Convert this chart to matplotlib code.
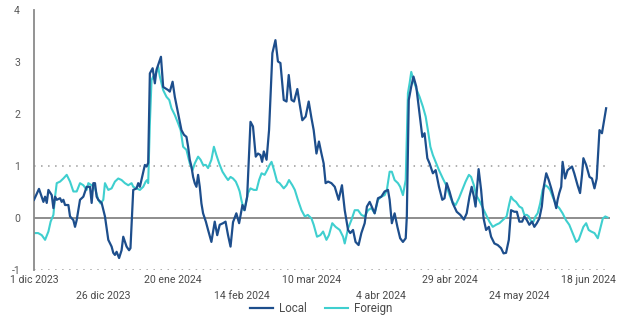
import matplotlib
matplotlib.use("Agg")
import matplotlib.pyplot as plt
import matplotlib.transforms as mtransforms
import pandas as pd

start_date = "2023-12-01"

local_days = [0, 1.8, 3.4, 4.0, 4.6, 5.2, 6.4, 7.0, 7.6, 8.2, 9.4, 10.0, 10.6, 11.2, 12.4, 13.0, 14.2, 14.8, 15.4, 16.6,
              17.8, 19.0, 20.2, 20.8, 21.4, 22.0, 22.6, 23.2, 24.4, 25.6, 26.8, 28.0, 28.6, 29.2, 29.8, 30.7, 31.6, 32.2, 33.4, 34.3,
              34.8, 35.8, 37.0, 37.6, 38.2, 39.2, 39.6, 40.0, 40.6, 41.2, 41.8, 42.8, 43.6, 44.2, 45.2, 45.8, 46.6, 48.4, 49.0, 50.0,
              50.8, 52.0, 53.2, 54.1, 55.0, 55.6, 56.2, 56.8, 57.4, 58.0, 58.6, 59.2, 59.8, 60.4, 61.0, 62.0, 62.8, 64.0, 65.2, 66.1,
              67.0, 68.2, 69.1, 70.0, 70.9, 71.8, 73.0, 74.0, 75.2, 76.0, 76.9, 78.1, 79.0, 80.0, 80.8, 81.7, 82.3, 82.9, 83.9, 84.8,
              86.0, 87.1, 88.0, 88.9, 90.1, 91.1, 91.9, 92.9, 93.8, 95.0, 95.9, 96.8, 98.0, 99.1, 100.1, 100.9, 101.9, 102.8, 103.7, 104.5,
              105.2, 106.1, 107.3, 108.5, 109.9, 111.1, 112.1, 113.3, 114.1, 115.1, 116.0, 117.1, 118.1, 119.3, 120.1, 121.1, 122.1, 122.9, 124.1, 125.3,
              126.5, 127.7, 128.3, 129.1, 130.1, 131.1, 132.1, 133.1, 134.1, 134.5, 135.2, 136.1, 136.9, 137.9, 138.8, 140.1, 140.9, 141.9, 142.7, 143.9,
              144.9, 146.1, 147.3, 148.1, 148.9, 149.9, 151.1, 152.5, 153.8, 155.1, 156.1, 157.1, 157.9, 158.7, 159.3, 160.4, 161.3, 162.2, 163.1, 164.1,
              164.9, 166.1, 167.3, 168.5, 169.4, 170.3, 171.3, 172.1, 173.3, 174.2, 175.1, 176.1, 176.9, 177.8, 178.7, 179.7, 180.5, 181.4, 182.3, 183.2,
              183.9, 184.8, 185.7, 186.6, 187.4, 188.4, 188.9, 189.5, 190.2, 190.7, 191.6, 192.5, 194.1, 194.9, 196.1, 197.0, 197.7, 198.2, 199.2, 200.4,
              201.3, 202.2, 203.0, 204.0, 204.9, 205.8, 206.4]
local_vals = [0.35, 0.56, 0.31, 0.41, 0.29, 0.54, 0.44, 0.19, 0.41, 0.35, 0.38, 0.31, 0.35, 0.25, 0.25, 0.03, -0.04, -0.17, -0.04, 0.35,
              0.41, 0.60, 0.60, 0.29, 0.67, 0.67, 0.41, 0.35, 0.29, 0.03, -0.42, -0.55, -0.67, -0.71, -0.65, -0.77, -0.62, -0.36, -0.55, -0.62,
              -0.58, 0.54, 0.57, 0.67, 0.60, 0.83, 0.92, 1.02, 0.99, 1.06, 2.78, 2.88, 2.59, 2.85, 3.01, 3.10, 2.52, 2.46, 2.43, 2.62,
              2.33, 2.01, 1.69, 1.60, 1.56, 1.37, 1.12, 0.99, 0.79, 0.67, 0.60, 0.83, 0.60, 0.28, 0.09, -0.07, -0.23, -0.46, -0.07, -0.33,
              -0.13, -0.10, -0.07, -0.33, -0.55, -0.08, 0.09, -0.10, 0.25, 0.15, 0.41, 1.85, 1.76, 1.18, 1.24, 1.21, 1.08, 1.28, 1.12, 1.69,
              3.17, 3.42, 3.01, 2.98, 2.27, 2.24, 2.75, 2.27, 2.24, 2.48, 2.17, 1.88, 1.95, 2.24, 1.92, 1.69, 1.24, 1.47, 1.24, 1.05,
              0.67, 0.70, 0.67, 0.60, 0.35, 0.63, 0.15, -0.23, -0.29, -0.23, -0.46, -0.52, -0.29, -0.10, 0.22, 0.31, 0.19, 0.09, 0.38, 0.41,
              0.51, 0.54, 0.35, -0.10, 0.09, -0.17, -0.39, -0.46, -0.39, 0.03, 2.27, 2.53, 2.72, 2.53, 2.14, 1.56, 1.63, 1.15, 1.05, 0.86,
              0.92, 0.60, 0.35, 0.38, 0.67, 0.51, 0.28, 0.12, 0.06, -0.03, 0.09, 0.41, 0.60, 0.41, 0.22, 0.94, 0.54, -0.01, -0.23, -0.17,
              -0.36, -0.49, -0.52, -0.58, -0.68, -0.67, -0.42, 0.15, 0.12, 0.12, -0.07, -0.07, 0.03, -0.04, -0.13, -0.07, -0.17, -0.10, -0.01, 0.22,
              0.60, 0.86, 0.73, 0.57, 0.41, 0.19, 0.35, 0.48, 0.60, 1.08, 0.76, 0.92, 0.99, 0.86, 0.63, 0.48, 0.83, 1.15, 1.02, 0.79,
              0.76, 0.57, 0.76, 1.69, 1.63, 1.92, 2.11]

foreign_days = [0, 1.5, 2.8, 4.0, 5.2, 6.0, 7.0, 7.6, 8.2, 9.4, 10.6, 11.8, 13.0, 14.2, 15.4, 16.6, 17.8, 19.0, 19.6, 20.8,
                22.0, 23.2, 24.0, 25.0, 25.6, 26.8, 28.0, 29.2, 30.4, 31.6, 32.8, 34.0, 35.2, 35.8, 37.0, 38.2, 39.4, 40.3, 40.8, 41.2,
                41.8, 42.4, 43.0, 44.0, 44.8, 45.4, 46.6, 47.8, 48.8, 49.6, 50.8, 52.0, 52.9, 53.8, 55.0, 56.2, 57.2, 58.0, 59.2, 60.1,
                61.0, 62.0, 62.8, 64.0, 64.9, 65.8, 66.8, 68.0, 69.2, 70.0, 70.9, 71.8, 72.8, 73.6, 74.2, 74.8, 75.7, 76.4, 77.2, 78.1,
                79.3, 80.3, 81.2, 82.1, 83.2, 84.1, 85.0, 85.7, 86.6, 87.7, 88.6, 90.1, 91.1, 92.0, 93.2, 94.1, 95.2, 96.5, 97.7, 98.8,
                100.1, 100.9, 102.1, 103.3, 104.3, 105.5, 106.4, 107.6, 108.8, 110.3, 111.5, 112.1, 113.3, 114.5, 115.7, 116.9, 118.1, 119.3, 120.5, 121.7,
                122.9, 124.1, 125.3, 126.5, 127.3, 128.3, 129.1, 130.1, 131.3, 132.1, 133.1, 134.1, 134.9, 135.5, 136.1, 136.9, 138.1, 139.1, 140.3, 141.3,
                142.1, 143.0, 143.9, 145.1, 146.1, 147.5, 148.7, 149.9, 150.9, 152.1, 153.3, 154.5, 155.7, 156.9, 157.7, 158.7, 159.5, 160.5, 161.7, 163.1,
                164.3, 165.5, 166.7, 167.9, 169.1, 170.5, 171.5, 172.1, 172.9, 173.9, 175.1, 176.1, 176.9, 177.8, 178.5, 179.4, 180.2, 180.9, 181.7, 182.6,
                183.5, 184.5, 185.3, 186.2, 187.1, 188.4, 189.5, 190.7, 191.9, 193.1, 194.3, 195.6, 196.5, 197.4, 198.2, 199.2, 200.1, 201.0, 202.2, 203.4,
                204.3, 205.2, 206.1, 206.9]
foreign_vals = [-0.29, -0.29, -0.33, -0.42, -0.26, -0.07, 0.06, 0.41, 0.67, 0.70, 0.76, 0.83, 0.70, 0.51, 0.51, 0.67, 0.63, 0.54, 0.67, 0.63,
                0.57, 0.35, 0.28, 0.35, 0.67, 0.54, 0.57, 0.70, 0.76, 0.73, 0.67, 0.63, 0.67, 0.60, 0.57, 0.54, 0.60, 0.70, 0.73, 0.67,
                1.82, 2.65, 2.72, 2.78, 2.91, 2.72, 2.46, 2.33, 2.27, 2.11, 1.98, 1.82, 1.69, 1.37, 1.31, 1.05, 0.92, 1.05, 1.18, 1.12,
                1.02, 1.02, 0.96, 1.12, 1.37, 1.21, 1.05, 0.89, 0.79, 0.73, 0.79, 0.76, 0.70, 0.60, 0.51, 0.35, 0.15, 0.28, 0.48, 0.57,
                0.54, 0.54, 0.73, 0.86, 0.83, 0.92, 1.02, 1.08, 0.92, 0.70, 0.67, 0.57, 0.63, 0.73, 0.63, 0.54, 0.35, 0.15, 0.03, 0.06,
                -0.01, -0.13, -0.36, -0.33, -0.26, -0.42, -0.33, -0.10, -0.17, -0.23, -0.36, -0.49, -0.20, -0.04, 0.15, 0.15, 0.06, 0.03, 0.15, 0.19,
                0.09, 0.35, 0.41, 0.44, 0.54, 0.89, 0.89, 0.73, 0.67, 0.60, 0.44, 0.73, 2.40, 2.59, 2.81, 2.65, 2.46, 2.33, 2.14, 1.95,
                1.69, 1.37, 1.21, 1.05, 0.92, 0.76, 0.63, 0.44, 0.31, 0.25, 0.38, 0.54, 0.70, 0.83, 0.79, 0.63, 0.44, 0.35, 0.22, 0.06,
                -0.07, -0.17, -0.13, -0.10, -0.04, 0.03, 0.28, 0.41, 0.35, 0.31, 0.22, 0.19, 0.06, 0.06, 0.03, -0.07, -0.07, 0.03, 0.09, 0.28,
                0.54, 0.63, 0.60, 0.54, 0.41, 0.25, 0.19, 0.09, -0.04, -0.13, -0.29, -0.46, -0.42, -0.29, -0.17, -0.10, -0.23, -0.26, -0.29, -0.39,
                -0.20, -0.01, 0.03, 0.01]

tick_labels = ["1 dic 2023", "26 dic 2023", "20 ene 2024", "14 feb 2024", "10 mar 2024",
               "4 abr 2024", "29 abr 2024", "24 may 2024", "18 jun 2024"]
y_ticks = [-1, 0, 1, 2, 3, 4]
series_names = ["Local", "Foreign"]

plt.rcParams['font.family'] = ['Roboto', 'DejaVu Sans']

t0 = pd.Timestamp(start_date)
local_dates = t0 + pd.to_timedelta(local_days, unit="D")
foreign_dates = t0 + pd.to_timedelta(foreign_days, unit="D")
tick_dates = [t0 + pd.Timedelta(days=25 * i) for i in range(len(tick_labels))]

fig = plt.figure(figsize=(6.21, 3.15), dpi=100)
ax = fig.add_axes([34 / 621, 45 / 315, 576 / 621, 260 / 315])

c_local = "#1d4e8c"
c_foreign = "#3fcfcf"

ax.axhline(0, color="#6f6f6f", lw=1.1, zorder=1)
for yv in (1, -1):
    ax.axhline(yv, color="#9a9a9a", lw=1.1, ls=(0, (1, 3.6)), zorder=1)

l1, = ax.plot(local_dates, local_vals, color=c_local, lw=1.6, zorder=3, label=series_names[0])
l2, = ax.plot(foreign_dates, foreign_vals, color=c_foreign, lw=1.5, zorder=2, label=series_names[1])

ax.set_ylim(-1, 4)
ax.set_xlim(t0, t0 + pd.Timedelta(days=207.8))
ax.set_yticks(y_ticks)
ax.set_yticklabels([str(v) for v in y_ticks])
ax.set_xticks(tick_dates)
ax.set_xticklabels([""] * len(tick_dates))

trans = mtransforms.blended_transform_factory(ax.transData, fig.transFigure)
for i, (d, lab) in enumerate(zip(tick_dates, tick_labels)):
    ypix = 280 if i % 2 == 0 else 296
    ax.text(d, (315 - ypix) / 315, lab, transform=trans, ha="center", va="center",
            fontsize=7.6, color="#4a4a4a")

for s in ["top", "right", "bottom"]:
    ax.spines[s].set_visible(False)
ax.spines["left"].set_color("#8a8a8a")
ax.spines["left"].set_linewidth(1.3)
ax.tick_params(axis="y", length=0, pad=10, labelsize=7.6, labelcolor="#5a5a5a")
ax.tick_params(axis="x", length=0)

fig.legend(handles=[l1, l2], loc="center", bbox_to_anchor=(0.517, (315 - 308.5) / 315), ncol=2, frameon=False,
           fontsize=8.3, handlelength=2.0, handletextpad=0.5, columnspacing=1.6, labelcolor="#4a4a4a",
           borderpad=0.0)

fig.savefig("out.png", dpi=100)
